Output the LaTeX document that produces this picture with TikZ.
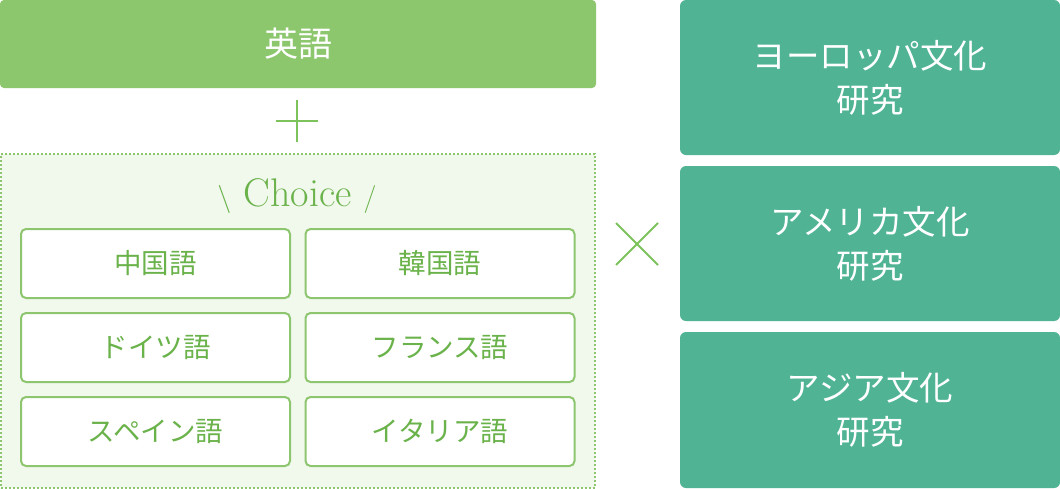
\documentclass[tikz,border=0pt]{standalone}
\usepackage{fontspec}
\newfontfamily\jp{Noto Sans CJK JP}
\definecolor{topgreen}{HTML}{8CC66D}
\definecolor{tealbox}{HTML}{4FB394}
\definecolor{txtgreen}{HTML}{6AB24A}
\definecolor{bgpale}{HTML}{F1F8EC}
\definecolor{boxgreen}{HTML}{8DC66F}
\definecolor{signgreen}{HTML}{7DC25A}
\tikzset{
  topbox/.style={fill=topgreen, rounded corners=4pt, inner sep=0pt, outer sep=0pt, text=white, font=\jp\fontsize{34}{40}\selectfont},
  choicebg/.style={fill=bgpale, draw=boxgreen, line width=2pt, dash pattern=on 2pt off 2pt, inner sep=0pt, outer sep=0pt},
  langbox/.style={fill=white, draw=boxgreen, line width=2pt, rounded corners=5pt, minimum width=269pt, minimum height=69pt, inner sep=0pt, outer sep=0pt, text=txtgreen, font=\jp\fontsize{27.5}{32}\selectfont},
  studybox/.style={fill=tealbox, rounded corners=6pt, minimum width=380pt, inner sep=0pt, outer sep=0pt, text=white, align=center, font=\jp\fontsize{33.5}{44}\selectfont},
  sign/.style={draw=signgreen, line width=2pt},
}
\begin{document}
\begin{tikzpicture}[x=1pt,y=-1pt]
\useasboundingbox (0,0) rectangle (1060,488);
% English
\node[topbox, minimum width=596pt, minimum height=88pt] (eng) at (298,44) {英語};
% plus
\coordinate (pl) at (276,121); \coordinate (pr) at (318,121);
\coordinate (pt) at (297,100); \coordinate (pb) at (297,142);
\draw[sign] (pl) -- (pr); \draw[sign] (pt) -- (pb);
% choice area
\node[choicebg, minimum width=594pt, minimum height=334pt] (choice) at (298,320.5) {};
\node[text=txtgreen, font=\fontsize{40}{44}\selectfont, inner sep=0pt] (chlabel) at (297,196) {{\fontsize{28}{30}\selectfont\textbackslash}\ Choice\ {\fontsize{28}{30}\selectfont/}};
\node[langbox] (zh) at (155.5,263.5) {中国語};
\node[langbox] (ko) at (440,263.5) {韓国語};
\node[langbox] (de) at (155.5,347.5) {ドイツ語};
\node[langbox] (fr) at (440,347.5) {フランス語};
\node[langbox] (es) at (155.5,431.5) {スペイン語};
\node[langbox] (it) at (440,431.5) {イタリア語};
% times
\coordinate (t1) at (616,223); \coordinate (t2) at (658,265);
\coordinate (t3) at (616,265); \coordinate (t4) at (658,223);
\draw[sign] (t1) -- (t2); \draw[sign] (t3) -- (t4);
% studies
\node[studybox, minimum height=155pt] (eu) at (870,77.5) {ヨーロッパ文化\\研究};
\node[studybox, minimum height=155pt] (am) at (870,243.5) {アメリカ文化\\研究};
\node[studybox, minimum height=156pt] (as) at (870,410) {アジア文化\\研究};
\end{tikzpicture}
\end{document}
